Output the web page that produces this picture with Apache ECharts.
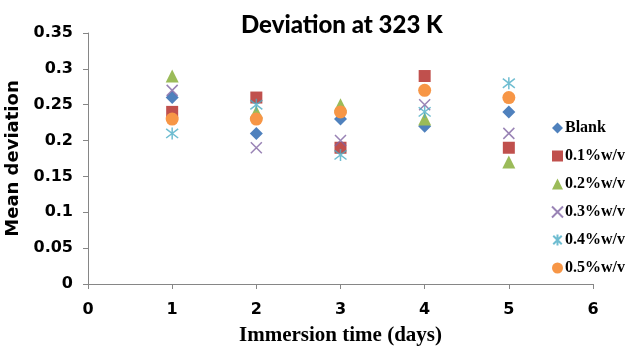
<!DOCTYPE html>
<html>
<head>
<meta charset="utf-8">
<script src="https://cdn.jsdelivr.net/npm/echarts@6/dist/echarts.min.js"></script>
<style>
  html, body { margin: 0; padding: 0; background: #fff; }
  #chart { width: 630px; height: 346px; }
</style>
</head>
<body>
<div id="chart"></div>
<script>
// Immersion days and mean deviation per inhibitor concentration
const days = [1, 2, 3, 4, 5];
const blank = [0.26, 0.21, 0.23, 0.22, 0.24];
const conc01 = [0.24, 0.26, 0.19, 0.29, 0.19];
const conc02 = [0.29, 0.24, 0.25, 0.23, 0.17];
const conc03 = [0.27, 0.19, 0.20, 0.25, 0.21];
const conc04 = [0.21, 0.25, 0.18, 0.24, 0.28];
const conc05 = [0.23, 0.23, 0.24, 0.27, 0.26];
const seriesNames = ['Blank', '0.1%w/v', '0.2%w/v', '0.3%w/v', '0.4%w/v', '0.5%w/v'];
const yTicks = ['0', '0.05', '0.1', '0.15', '0.2', '0.25', '0.3', '0.35'];

const pairs = vals => days.map((d, i) => [d, vals[i]]);

const crossPath = 'path://M0,0L10,10M10,0L0,10';
const starPath = 'path://M0,0L10,10M10,0L0,10M5,-1.5L5,11.5';

const styles = [
  { symbol: 'diamond', size: 13, color: '#4F81BD' },
  { symbol: 'rect', size: 12, color: '#C0504D' },
  { symbol: 'triangle', size: 13, color: '#9BBB59' },
  { symbol: crossPath, size: 11, color: '#8064A2', line: true },
  { symbol: starPath, size: 12, color: '#4BACC6', line: true },
  { symbol: 'circle', size: 13, color: '#F79646' }
];
const values = [blank, conc01, conc02, conc03, conc04, conc05];

const chart = echarts.init(document.getElementById('chart'));
chart.setOption({
  animation: false,
  title: {
    text: 'Deviation at 323 K',
    left: 236,
    top: 8,
    textStyle: { fontFamily: 'Lato', fontWeight: 900, fontSize: 24, color: '#000' }
  },
  legend: {
    orient: 'vertical',
    left: 546,
    top: 115,
    itemWidth: 11,
    itemHeight: 11,
    itemGap: 12,
    textStyle: { fontFamily: 'Liberation Serif', fontWeight: 'bold', fontSize: 16, color: '#000', padding: [0, 0, 0, -3] },
    data: seriesNames
  },
  grid: { left: 88, right: 37, top: 33, bottom: 62, outerBoundsMode: 'none', containLabel: false },
  xAxis: {
    type: 'value',
    min: 0, max: 6, interval: 1,
    name: 'Immersion time (days)',
    nameLocation: 'middle',
    nameGap: 41,
    nameTextStyle: { fontFamily: 'Liberation Serif', fontWeight: 'bold', fontSize: 21, color: '#000' },
    axisLine: { lineStyle: { color: '#868686', width: 1 } },
    axisTick: { show: true, length: 5, lineStyle: { color: '#868686' } },
    axisLabel: { margin: 18, fontFamily: 'DejaVu Sans', fontWeight: 'bold', fontSize: 16, color: '#000' },
    splitLine: { show: false }
  },
  yAxis: {
    type: 'value',
    min: 0, max: 0.35, interval: 0.05,
    name: 'Mean deviation',
    nameLocation: 'middle',
    nameGap: 54,
    nameTextStyle: { fontFamily: 'DejaVu Sans', fontWeight: 'bold', fontSize: 18, color: '#000' },
    axisLine: { show: true, lineStyle: { color: '#868686', width: 1 } },
    axisTick: { show: true, length: 5, lineStyle: { color: '#868686' } },
    axisLabel: {
      margin: 15,
      fontFamily: 'DejaVu Sans', fontWeight: 'bold', fontSize: 16, color: '#000',
      formatter: v => yTicks[Math.round(v / 0.05)]
    },
    splitLine: { show: false }
  },
  series: seriesNames.map((name, k) => ({
    name,
    type: 'scatter',
    symbol: styles[k].symbol,
    symbolSize: styles[k].size,
    data: pairs(values[k]),
    itemStyle: styles[k].line
      ? { color: styles[k].color, borderColor: styles[k].color, borderWidth: 1.5 }
      : { color: styles[k].color, opacity: 1 }
  }))
});
</script>
</body>
</html>
